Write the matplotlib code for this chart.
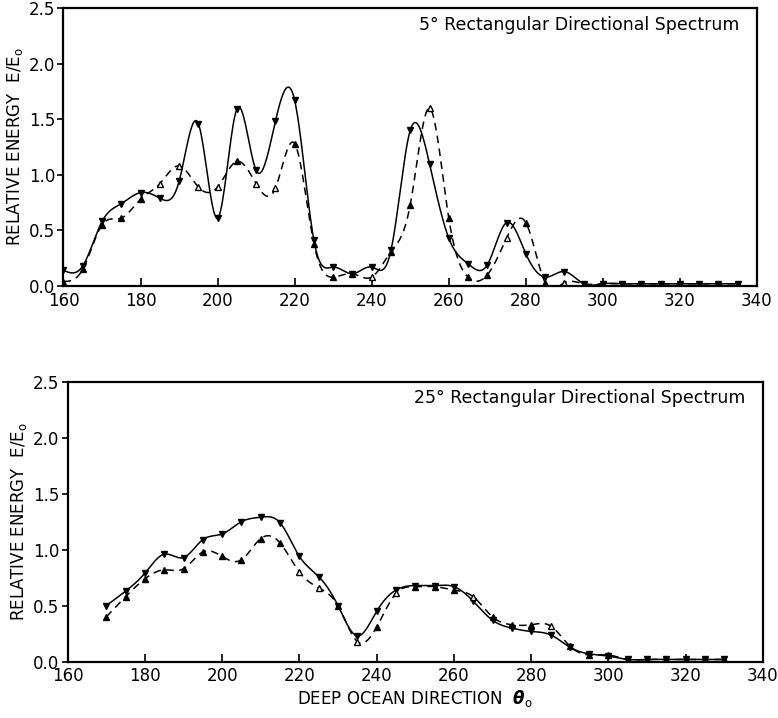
from matplotlib import pyplot as plt
import numpy as np

# top panel: 5 deg rectangular directional spectrum
top_dir = list(range(160, 340, 5))
top_solid = [0.14, 0.18, 0.58, 0.74, 0.84, 0.79, 0.94, 1.46, 0.61, 1.59, 1.04, 1.48,
             1.67, 0.41, 0.17, 0.11, 0.17, 0.32, 1.40, 1.10, 0.43, 0.20, 0.19, 0.57,
             0.29, 0.08, 0.13, 0.02, 0.02, 0.02, 0.02, 0.02, 0.02, 0.02, 0.02, 0.02]
top_dash = [0.04, 0.15, 0.55, 0.61, 0.78, 0.92, 1.08, 0.89, 0.89, 1.12, 0.92, 0.88,
            1.28, 0.38, 0.08, 0.11, 0.08, 0.31, 0.73, 1.60, 0.61, 0.08, 0.10, 0.43,
            0.57, 0.03, 0.03, 0.02, 0.02, 0.02, 0.02, 0.02, 0.02, 0.02, 0.02, 0.02]
top_open = [185, 190, 195, 200, 210, 215, 240, 255, 275, 290]

# bottom panel: 25 deg rectangular directional spectrum
bot_dir = list(range(170, 335, 5))
bot_solid = [0.50, 0.63, 0.79, 0.96, 0.93, 1.09, 1.14, 1.25, 1.29, 1.24, 0.94, 0.76,
             0.50, 0.23, 0.45, 0.64, 0.68, 0.68, 0.67, 0.54, 0.37, 0.30, 0.27, 0.24,
             0.13, 0.07, 0.05, 0.02, 0.02, 0.02, 0.02, 0.02, 0.02]
bot_dash = [0.40, 0.58, 0.74, 0.82, 0.83, 0.98, 0.94, 0.91, 1.10, 1.06, 0.80, 0.66,
            0.50, 0.18, 0.31, 0.61, 0.67, 0.67, 0.64, 0.58, 0.40, 0.33, 0.33, 0.32,
            0.14, 0.06, 0.06, 0.02, 0.02, 0.02, 0.02, 0.02, 0.02]
bot_open = [220, 225, 235, 245, 265, 285]

xticks = list(range(160, 341, 20))
yticks = [0.0, 0.5, 1.0, 1.5, 2.0, 2.5]


def smooth(x, y, n=20):
    # natural cubic spline through the points, just for drawing the curve
    x = np.asarray(x, float)
    y = np.asarray(y, float)
    k = len(x)
    h = np.diff(x)
    A = np.zeros((k, k))
    b = np.zeros(k)
    A[0, 0] = A[-1, -1] = 1
    for i in range(1, k - 1):
        A[i, i - 1] = h[i - 1]
        A[i, i] = 2 * (h[i - 1] + h[i])
        A[i, i + 1] = h[i]
        b[i] = 6 * ((y[i + 1] - y[i]) / h[i] - (y[i] - y[i - 1]) / h[i - 1])
    M = np.linalg.solve(A, b)
    xs, ys = [], []
    for i in range(k - 1):
        t = np.linspace(x[i], x[i + 1], n, endpoint=False)
        a = x[i + 1] - t
        c = t - x[i]
        s = (M[i] * a**3 + M[i + 1] * c**3) / (6 * h[i]) \
            + (y[i] / h[i] - M[i] * h[i] / 6) * a + (y[i + 1] / h[i] - M[i + 1] * h[i] / 6) * c
        xs.extend(t)
        ys.extend(s)
    xs.append(x[-1])
    ys.append(y[-1])
    return np.array(xs), np.array(ys)


def panel(ax, d, solid, dash, opn, title):
    xs, ys = smooth(d, solid)
    ax.plot(xs, ys, 'k-', lw=1.1)
    xs, ys = smooth(d, dash)
    ax.plot(xs, ys, 'k', lw=1.1, linestyle=(0, (5, 3.5)))
    ax.plot(d, solid, 'kv', ms=4.5, ls='none')
    filled = [(a, b) for a, b in zip(d, dash) if a not in opn]
    hollow = [(a, b) for a, b in zip(d, dash) if a in opn]
    ax.plot([p[0] for p in filled], [p[1] for p in filled], 'k^', ms=5, ls='none')
    ax.plot([p[0] for p in hollow], [p[1] for p in hollow], '^', ms=5, ls='none',
            mfc='white', mec='k', mew=1)
    ax.set_xlim(160, 340)
    ax.set_ylim(0, 2.5)
    ax.set_xticks(xticks)
    ax.set_yticks(yticks)
    ax.set_yticklabels([f'{v:.1f}' for v in yticks])
    ax.tick_params(axis='x', direction='in', length=6, width=1.2, labelsize=12, pad=4)
    ax.tick_params(axis='y', direction='out', length=4, width=1.2, labelsize=12, pad=2)
    for s in ax.spines.values():
        s.set_linewidth(1.6)
    ax.text(0.975, 0.94, title, transform=ax.transAxes, ha='right', va='center', fontsize=12.5)
    ax.set_ylabel('RELATIVE ENERGY  E/E$_\\mathregular{o}$', fontsize=12, labelpad=3)


fig = plt.figure(figsize=(7.78, 7.18), dpi=100)
ax1 = fig.add_axes([0.0816, 0.6017, 0.8914, 0.3872])
ax2 = fig.add_axes([0.0869, 0.0784, 0.8938, 0.3900])

panel(ax1, top_dir, top_solid, top_dash, top_open, '5° Rectangular Directional Spectrum')
panel(ax2, bot_dir, bot_solid, bot_dash, bot_open, '25° Rectangular Directional Spectrum')
ax2.set_xlabel('DEEP OCEAN DIRECTION  $\\boldsymbol{\\theta}_\\mathregular{o}$', fontsize=12, labelpad=2)

fig.savefig('out.png', dpi=100)
